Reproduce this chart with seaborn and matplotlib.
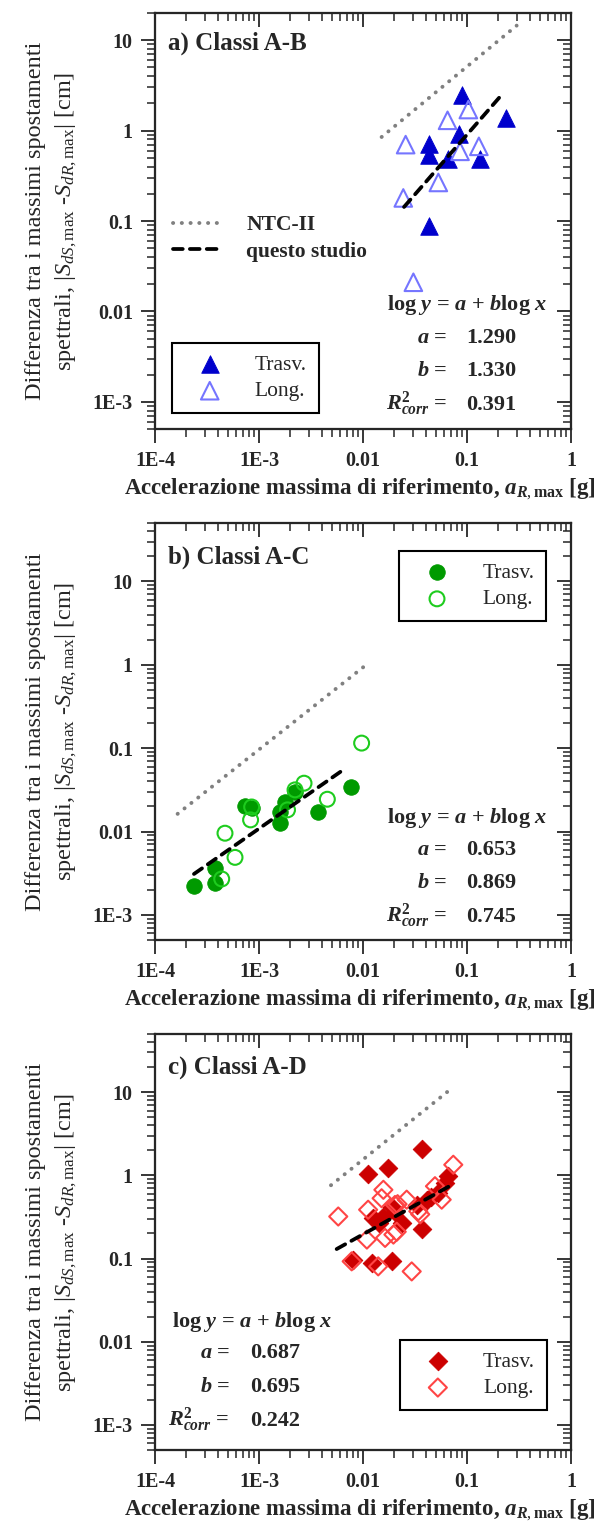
import numpy as np
import pandas as pd
import matplotlib
matplotlib.use("Agg")
import matplotlib.pyplot as plt
import matplotlib.ticker as mticker
import seaborn as sns

# ---------------- data ----------------
x_ticks = [1e-4, 1e-3, 1e-2, 1e-1, 1.0]
x_ticklabels = ["1E-4", "1E-3", "0.01", "0.1", "1"]
y_ticks = [1e-3, 1e-2, 1e-1, 1.0, 10.0]
y_ticklabels = ["1E-3", "0.01", "0.1", "1", "10"]

panel_titles = ["a) Classi A-B", "b) Classi A-C", "c) Classi A-D"]
fit_a = ["1.290", "0.653", "0.687"]
fit_b = ["1.330", "0.869", "0.695"]
fit_r2 = ["0.391", "0.745", "0.242"]

# panel a (classes A-B)
a_tr_x = [0.089, 0.237, 0.084, 0.0435, 0.0435, 0.065, 0.133, 0.043]
a_tr_y = [2.5, 1.38, 0.92, 0.71, 0.54, 0.48, 0.49, 0.087]
a_lo_x = [0.0257, 0.103, 0.065, 0.0857, 0.130, 0.053, 0.0244, 0.0305]
a_lo_y = [0.70, 1.71, 1.30, 0.59, 0.67, 0.267, 0.18, 0.021]
a_ntc_x = [0.0151, 0.30]
a_ntc_y = [0.85, 14.5]
a_fit_x = [0.0248, 0.207]
a_fit_y = [0.143, 2.36]

# panel b (classes A-C)
b_tr_x = [2.39e-4, 3.78e-4, 3.78e-4, 7.33e-4, 8.5e-4, 1.59e-3, 1.59e-3, 1.78e-3, 2.22e-3, 3.72e-3, 7.6e-3]
b_tr_y = [2.22e-3, 2.4e-3, 3.63e-3, 0.0203, 0.019, 0.0173, 0.0125, 0.0229, 0.030, 0.0173, 0.0346]
b_lo_x = [9.7e-3, 2.71e-3, 4.54e-3, 2.22e-3, 1.88e-3, 8.5e-4, 8.3e-4, 4.71e-4, 5.88e-4, 4.38e-4]
b_lo_y = [0.115, 0.038, 0.0244, 0.0316, 0.0182, 0.0197, 0.0138, 9.55e-3, 4.9e-3, 2.7e-3]
b_ntc_x = [1.65e-4, 0.0101]
b_ntc_y = [0.0163, 0.94]
b_fit_x = [2.37e-4, 6.87e-3]
b_fit_y = [3.1e-3, 0.058]

# panel c (classes A-D)
c_tr_x = [0.0367, 0.0111, 0.0173, 0.0367, 8.07e-3, 0.0121, 0.0189, 0.0126, 0.0157, 0.0189,
          0.0236, 0.0144, 0.0328, 0.041, 0.053, 0.066, 0.0614, 0.0205, 0.045]
c_tr_y = [2.07, 1.04, 1.22, 0.227, 0.095, 0.0886, 0.0925, 0.307, 0.32, 0.42,
          0.267, 0.267, 0.44, 0.51, 0.61, 0.97, 0.81, 0.36, 0.55]
c_lo_x = [0.0738, 5.78e-3, 0.0157, 0.0151, 0.0112, 0.0263, 0.0203, 0.034, 0.0492, 0.0571,
          0.0109, 0.0163, 0.0196, 0.0211, 7.78e-3, 0.014, 0.0294, 0.0355, 0.0215]
c_lo_y = [1.34, 0.32, 0.67, 0.53, 0.386, 0.51, 0.44, 0.37, 0.74, 0.51,
          0.169, 0.177, 0.194, 0.21, 0.0925, 0.0805, 0.070, 0.34, 0.45]
c_ntc_x = [4.92e-3, 0.0687]
c_ntc_y = [0.76, 10.7]
c_fit_x = [5.58e-3, 0.0738]
c_fit_y = [0.13, 0.787]

# ---------------- style ----------------
sns.set_style("ticks")
plt.rcParams["font.family"] = ["Liberation Serif", "DejaVu Serif"]
plt.rcParams["mathtext.fontset"] = "custom"
plt.rcParams["mathtext.rm"] = "Liberation Serif"
plt.rcParams["mathtext.it"] = "Liberation Serif:italic"
plt.rcParams["mathtext.bf"] = "Liberation Serif:bold"
plt.rcParams["mathtext.bfit"] = "Liberation Serif:bold:italic"
plt.rcParams["axes.linewidth"] = 1.5

fig = plt.figure(figsize=(6.01, 15.30), dpi=100)
axes_rects = [
    [0.2579, 0.7196, 0.6922, 0.2719],
    [0.2579, 0.3856, 0.6922, 0.2725],
    [0.2579, 0.0523, 0.6922, 0.2719],
]
ylims = [(5e-4, 20), (5e-4, 50), (5e-4, 50)]

panels = [
    dict(tr=(a_tr_x, a_tr_y), lo=(a_lo_x, a_lo_y), ntc=(a_ntc_x, a_ntc_y), fit=(a_fit_x, a_fit_y),
         c_tr="#0000CC", c_lo="#7575FF", m="^", s=160, s_lo=160),
    dict(tr=(b_tr_x, b_tr_y), lo=(b_lo_x, b_lo_y), ntc=(b_ntc_x, b_ntc_y), fit=(b_fit_x, b_fit_y),
         c_tr="#009A00", c_lo="#1ECC1E", m="o", s=125, s_lo=115),
    dict(tr=(c_tr_x, c_tr_y), lo=(c_lo_x, c_lo_y), ntc=(c_ntc_x, c_ntc_y), fit=(c_fit_x, c_fit_y),
         c_tr="#CC0000", c_lo="#FF4545", m="D", s=90, s_lo=85),
]

# text positions (axes fraction, baseline)
eq_pos = [
    dict(eq=(0.751, 0.286, "center"), rows=[0.207, 0.127, 0.046], xeq=0.702, xval=0.748),
    dict(eq=(0.751, 0.281, "center"), rows=[0.204, 0.124, 0.044], xeq=0.702, xval=0.748),
    dict(eq=(0.041, 0.296, "left"), rows=[0.220, 0.140, 0.058], xeq=0.180, xval=0.228),
]
title_y = [0.913, 0.903, 0.906]

ylabel_txt = ("Differenza tra i massimi spostamenti\n"
              r"spettrali, $|S_{dS,\mathrm{max}}$ -$S_{dR,\mathrm{max}}|$ [cm]")
xlabel_txt = r"Accelerazione massima di riferimento, $\mathbfit{a}_{\mathbfit{R},\mathbf{max}}$ [g]"


def minor_loc():
    return mticker.LogLocator(base=10, subs=np.arange(2, 10), numticks=50)


for i, (rect, p) in enumerate(zip(axes_rects, panels)):
    ax = fig.add_axes(rect)
    ax.set_xscale("log")
    ax.set_yscale("log")
    ax.set_xlim(1e-4, 1)
    ax.set_ylim(*ylims[i])

    # reference lines
    sns.lineplot(x=p["ntc"][0], y=p["ntc"][1], ax=ax, color="#808080", linewidth=2.8,
                 linestyle=(0, (0.05, 2.2)), dash_capstyle="round", solid_capstyle="round",
                 legend=False, label="NTC-II", sort=False, estimator=None, zorder=2)
    sns.lineplot(x=p["fit"][0], y=p["fit"][1], ax=ax, color="black", linewidth=2.7,
                 linestyle=(0, (2.6, 1.9)), dash_capstyle="round",
                 legend=False, label="questo studio", sort=False, estimator=None, zorder=4)

    # points
    sns.scatterplot(x=p["tr"][0], y=p["tr"][1], ax=ax, marker=p["m"], s=p["s"],
                    color=p["c_tr"], edgecolor=p["c_tr"], linewidth=0.6,
                    legend=False, label="Trasv.", zorder=3)
    sns.scatterplot(x=p["lo"][0], y=p["lo"][1], ax=ax, marker=p["m"], s=p["s_lo"],
                    color=p["c_lo"], edgecolor=p["c_lo"], linewidth=1.5,
                    legend=False, label="Long.", zorder=3)
    ax.collections[-1].set_facecolor("none")
    ax.collections[-1].set_edgecolor(p["c_lo"])

    # ticks (outward on left / bottom)
    ax.set_xticks(x_ticks, x_ticklabels)
    ax.set_yticks(y_ticks, y_ticklabels)
    ax.xaxis.set_minor_locator(minor_loc())
    ax.yaxis.set_minor_locator(minor_loc())
    ax.xaxis.set_minor_formatter(mticker.NullFormatter())
    ax.yaxis.set_minor_formatter(mticker.NullFormatter())
    ax.tick_params(which="major", direction="out", length=10, width=1.3,
                   labelsize=14.5, pad=6, top=False, right=False)
    ax.tick_params(which="minor", direction="out", length=5.5, width=1.1,
                   top=False, right=False)
    for lab in ax.get_xticklabels() + ax.get_yticklabels():
        lab.set_fontweight("bold")

    # labels
    ax.set_xlabel(xlabel_txt, fontsize=16.5, fontweight="bold")
    ax.xaxis.set_label_coords(0.493, -0.115)
    ax.set_ylabel(ylabel_txt, fontsize=17.5, linespacing=1.45)
    ax.yaxis.set_label_coords(-0.183, 0.5)

    # title
    ax.text(0.031, title_y[i], panel_titles[i], transform=ax.transAxes,
            fontsize=18, fontweight="bold", ha="left", va="baseline")

    # equation block
    ep = eq_pos[i]
    ax.text(ep["eq"][0], ep["eq"][1],
            r"log $\mathbfit{y}$ = $\mathbfit{a}$ + $\mathbfit{b}$log $\mathbfit{x}$",
            transform=ax.transAxes, fontsize=16, fontweight="bold",
            ha=ep["eq"][2], va="baseline")
    names = [r"$\mathbfit{a}$ =", r"$\mathbfit{b}$ =",
             r"$\mathbfit{R}^{\mathbf{2}}_{\mathbfit{corr}}$ ="]
    vals = [fit_a[i], fit_b[i], fit_r2[i]]
    for nm, vl, yy in zip(names, vals, ep["rows"]):
        ax.text(ep["xeq"], yy, nm, transform=ax.transAxes, fontsize=16,
                fontweight="bold", ha="right", va="baseline")
        ax.text(ep["xval"], yy, vl, transform=ax.transAxes, fontsize=16,
                fontweight="bold", ha="left", va="baseline")

    # legends
    handles, labels = ax.get_legend_handles_labels()
    hd = dict(zip(labels, handles))
    mk_handles = [hd["Trasv."], hd["Long."]]
    leg_kw = dict(fontsize=15.5, frameon=True, fancybox=False, edgecolor="black",
                  framealpha=1, borderaxespad=0, borderpad=0.55, handlelength=2.4,
                  handletextpad=0.9, labelspacing=0.3, scatterpoints=1)
    if i == 0:
        leg_lines = ax.legend([hd["NTC-II"], hd["questo studio"]], ["NTC-II", "questo studio"],
                              loc="center left", bbox_to_anchor=(0.043, 0.458),
                              frameon=False, borderaxespad=0, borderpad=0,
                              handlelength=2.1, handletextpad=1.3, labelspacing=0.3,
                              prop={"weight": "bold", "size": 15.5})
        ax.add_artist(leg_lines)
        leg = ax.legend(mk_handles, ["Trasv.", "Long."], loc="lower left",
                        bbox_to_anchor=(0.041, 0.038), **leg_kw)
    elif i == 1:
        leg = ax.legend(mk_handles, ["Trasv.", "Long."], loc="upper right",
                        bbox_to_anchor=(0.940, 0.933), **leg_kw)
    else:
        leg = ax.legend(mk_handles, ["Trasv.", "Long."], loc="lower right",
                        bbox_to_anchor=(0.942, 0.096), **leg_kw)
    leg.get_frame().set_linewidth(1.5)

    # inward ticks on top and right via twin axes
    axt = ax.twiny()
    axt.set_xscale("log")
    axt.set_xlim(ax.get_xlim())
    axt.set_xticks(x_ticks)
    axt.xaxis.set_minor_locator(minor_loc())
    axt.xaxis.set_major_formatter(mticker.NullFormatter())
    axt.xaxis.set_minor_formatter(mticker.NullFormatter())
    axt.tick_params(axis="x", which="major", direction="in", length=10, width=1.3,
                    top=True, bottom=False, labeltop=False, labelbottom=False)
    axt.tick_params(axis="x", which="minor", direction="in", length=5.5, width=1.1,
                    top=True, bottom=False)
    axt.tick_params(axis="y", left=False, right=False, labelleft=False, labelright=False,
                    which="both")

    axr = ax.twinx()
    axr.set_yscale("log")
    axr.set_ylim(ax.get_ylim())
    axr.set_yticks(y_ticks)
    axr.yaxis.set_minor_locator(minor_loc())
    axr.yaxis.set_major_formatter(mticker.NullFormatter())
    axr.yaxis.set_minor_formatter(mticker.NullFormatter())
    axr.tick_params(axis="y", which="major", direction="in", length=10, width=1.3,
                    right=True, left=False, labelright=False, labelleft=False)
    axr.tick_params(axis="y", which="minor", direction="in", length=5.5, width=1.1,
                    right=True, left=False)
    axr.tick_params(axis="x", top=False, bottom=False, labeltop=False, labelbottom=False,
                    which="both")

fig.savefig("out.png", dpi=100)
